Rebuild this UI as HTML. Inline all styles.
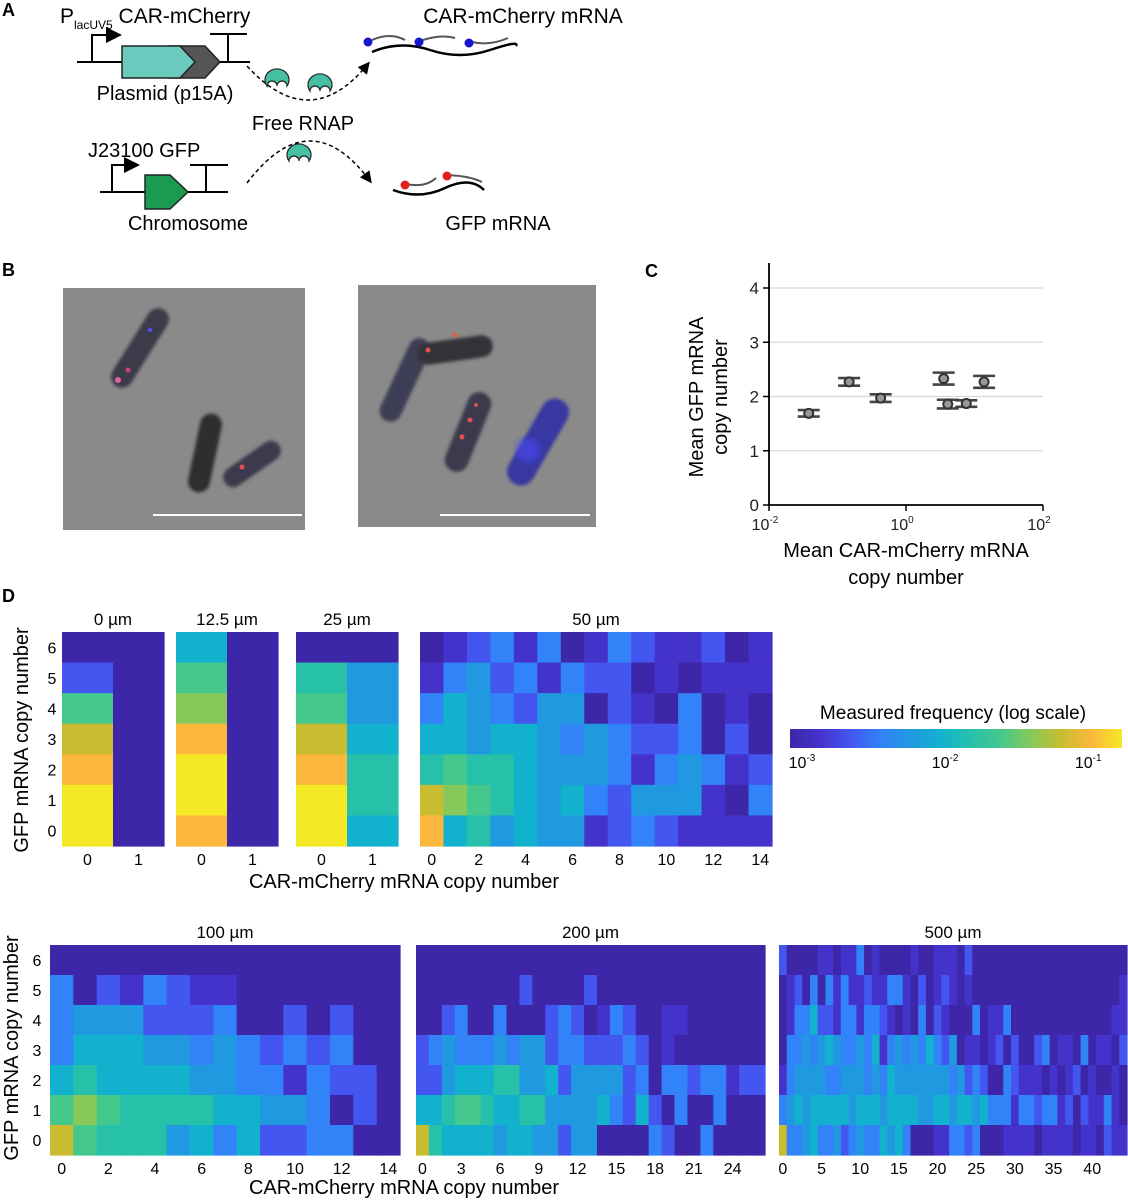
<!DOCTYPE html>
<html><head><meta charset="utf-8">
<style>
body{margin:0;background:#fff;}
svg{display:block;font-family:"Liberation Sans",Arial,sans-serif;}
</style></head>
<body>
<svg id="fig" width="1128" height="1200" viewBox="0 0 1128 1200" xmlns="http://www.w3.org/2000/svg">
<defs>
<marker id="ah" markerWidth="8" markerHeight="8" refX="6" refY="4" orient="auto"><path d="M0,0 L8,4 L0,8 z" fill="#000"/></marker>
<filter id="bl"><feGaussianBlur stdDeviation="4"/></filter>
<filter id="bl2"><feGaussianBlur stdDeviation="1.5"/></filter>
</defs>
<!-- Panel A -->
<g>
<text x="2" y="16" font-size="18" font-weight="bold">A</text>
<text x="60" y="23" font-size="21">P<tspan font-size="12" dy="6">lacUV5</tspan><tspan dy="-6"> CAR-mCherry</tspan></text>
<line x1="77" y1="62" x2="250" y2="62" stroke="#000" stroke-width="2"/>
<path d="M92,62 V35 H118" fill="none" stroke="#000" stroke-width="2" marker-end="url(#ah)"/>
<polygon points="170,46 205,46 220,62 205,78 170,78" fill="#555" stroke="#222" stroke-width="1.5"/>
<polygon points="122,46 180,46 195,62 180,78 122,78" fill="#6cc9bd" stroke="#222" stroke-width="1.5"/>
<path d="M228,62 V34 M210,34 H247" stroke="#000" stroke-width="2"/>
<text x="165" y="100" font-size="20" text-anchor="middle">Plasmid (p15A)</text>
<path d="M247,66 Q310,135 368,64" fill="none" stroke="#000" stroke-width="1.5" stroke-dasharray="4,3" marker-end="url(#ah)"/>
<text x="303" y="130" font-size="20" text-anchor="middle">Free RNAP</text>
<g fill="#47bfa3" stroke="#222" stroke-width="1.2">
<path d="M272,96 A12,11 0 1 1 292,96 A5,5 0 0 0 282,96 A5,5 0 0 0 272,96 Z" transform="translate(-5,-10)"/>
<path d="M272,96 A12,11 0 1 1 292,96 A5,5 0 0 0 282,96 A5,5 0 0 0 272,96 Z" transform="translate(38,-5)"/>
<path d="M272,96 A12,11 0 1 1 292,96 A5,5 0 0 0 282,96 A5,5 0 0 0 272,96 Z" transform="translate(17,65)"/>
</g>
<text x="88" y="157" font-size="20">J23100  GFP</text>
<line x1="100" y1="192" x2="228" y2="192" stroke="#000" stroke-width="2"/>
<path d="M112,192 V165 H136" fill="none" stroke="#000" stroke-width="2" marker-end="url(#ah)"/>
<polygon points="145,175 170,175 188,192 170,209 145,209" fill="#1a9b4f" stroke="#222" stroke-width="1.5"/>
<path d="M206,192 V165 M190,165 H228" stroke="#000" stroke-width="2"/>
<text x="188" y="230" font-size="20" text-anchor="middle">Chromosome</text>
<path d="M247,183 Q310,100 370,181" fill="none" stroke="#000" stroke-width="1.5" stroke-dasharray="4,3" marker-end="url(#ah)"/>
<text x="523" y="23" font-size="21" text-anchor="middle">CAR-mCherry mRNA</text>
<path d="M372,52 Q400,40 430,50 T490,50 T516,46" fill="none" stroke="#000" stroke-width="2.5"/>
<path d="M372,40 Q390,32 405,40 M420,41 Q440,34 455,38 M472,42 Q490,46 508,38" fill="none" stroke="#555" stroke-width="2"/>
<circle cx="368" cy="42" r="4.5" fill="#1515d0"/><circle cx="419" cy="42" r="4.5" fill="#1515d0"/><circle cx="469" cy="43" r="4.5" fill="#1515d0"/>
<path d="M393,190 Q420,200 445,188 T484,190" fill="none" stroke="#000" stroke-width="2.5"/>
<path d="M406,184 Q425,188 436,178 M447,175 Q470,176 482,182" fill="none" stroke="#555" stroke-width="2"/>
<circle cx="405" cy="185" r="4.5" fill="#e02020"/><circle cx="447" cy="176" r="4.5" fill="#e02020"/>
<text x="498" y="230" font-size="20" text-anchor="middle">GFP mRNA</text>
</g>
<!-- Panel B -->
<g>
<text x="2" y="276" font-size="18" font-weight="bold">B</text>
<rect x="63" y="288" width="242" height="242" fill="#8a8a8a"/>
<g filter="url(#bl2)">
<rect x="-45" y="-11" width="90" height="22" rx="11" fill="#3a3a48" transform="translate(140,348) rotate(-58)"/>
<rect x="-40" y="-11" width="80" height="22" rx="11" fill="#2e2e2e" transform="translate(205,453) rotate(-78)"/>
<rect x="-33" y="-10" width="66" height="20" rx="10" fill="#3a3a4e" transform="translate(252,464) rotate(-35)"/>
</g>
<circle cx="118" cy="380" r="3" fill="#e060a0"/><circle cx="128" cy="370" r="2.5" fill="#d04080"/><circle cx="242" cy="467" r="2.5" fill="#e05050"/><circle cx="150" cy="330" r="2" fill="#5050ff"/>
<line x1="153" y1="515" x2="302" y2="515" stroke="#fff" stroke-width="2"/>
<rect x="358" y="285" width="238" height="242" fill="#8a8a8a"/>
<g filter="url(#bl2)">
<rect x="-45" y="-11" width="90" height="22" rx="11" fill="#3c3c54" transform="translate(405,380) rotate(-65)"/>
<rect x="-38" y="-11" width="76" height="22" rx="11" fill="#333338" transform="translate(455,350) rotate(-8)"/>
<rect x="-42" y="-12" width="84" height="24" rx="12" fill="#3a3a4e" transform="translate(468,432) rotate(-68)"/>
<rect x="-48" y="-14" width="96" height="28" rx="14" fill="#3838a0" transform="translate(538,442) rotate(-60)"/>
</g>
<circle cx="528" cy="450" r="12" fill="#4a4aff" opacity="0.6" filter="url(#bl)"/>
<circle cx="428" cy="350" r="2.5" fill="#e05050"/><circle cx="455" cy="335" r="2.5" fill="#e06040"/><circle cx="470" cy="420" r="2.5" fill="#e05050"/><circle cx="462" cy="437" r="2.5" fill="#e05050"/><circle cx="476" cy="405" r="2" fill="#e05050"/>
<line x1="440" y1="515" x2="590" y2="515" stroke="#fff" stroke-width="2"/>
</g>
<!-- Panel C -->
<g id="panelC">
<text x="645" y="277" font-size="18" font-weight="bold">C</text>
</g>
<!-- Panel D -->
<g id="panelD">
<text x="2" y="602" font-size="18" font-weight="bold">D</text>
</g>
</svg>
<script>
// ---------- Panel C data ----------
const cLogX = [-1.42, -0.83, -0.37, 0.55, 0.61, 0.88, 1.14];
const cMeanY = [1.69, 2.27, 1.97, 2.33, 1.86, 1.87, 2.27];
const cErrY = [0.06, 0.07, 0.07, 0.11, 0.08, 0.06, 0.11];
const cYTicks = [0, 1, 2, 3, 4];
const cXTickExp = [-2, 0, 2];

// ---------- Panel D data (level codes: 0..b, log-frequency bins) ----------
const hm0 = ["00","20","70","90","a0","b0","b0"];
const hm12 = ["50","70","80","a0","b0","b0","a0"];
const hm25 = ["00","64","74","95","a6","b6","b5"];
const hm50 = [
"012313013211201","134231322010111","354324402103010",
"554554343223020","676654443134312","987654532444103","a56454412321111"];
const hm100 = [
"000000000000000","302132110000000","344422230020200",
"355544343232300","565555443313220","787666655443020","976664535223300"];
const hm200 = [
"000000000000000000000000000","000000002000020000000000000",
"002300300023201320011000000","234333434423322232010000000",
"224555664452444423033233122","556776556644445325203003000",
"965555455442440000320030000"];
const hm500 = [
"200001101130100001001110200000000000000000000",
"012030313112113310201210100000000000000000001",
"013352213313321010302100030113000000000000011",
"033434543343513434353240110120200230110301102",
"134444334443435444444434232003211101012010010",
"345455555455545555445545545333133233120211310",
"933453342343354530001133230001111011110110211"];
const gfpTicks = [0,1,2,3,4,5,6];
const cbTickExp = [-3, -2, -1];

const palette = ["#3e26a8","#4433cb","#4356ef","#3282f8","#2199e0","#12b2cf","#27c1aa","#45c88c","#86c95a","#c9bc31","#fbb83c","#f4e925"];
const NS = "http://www.w3.org/2000/svg";
function mk(parent, tag, attrs, text){
  const e = document.createElementNS(NS, tag);
  for (const k in attrs) e.setAttribute(k, attrs[k]);
  if (text !== undefined) e.textContent = text;
  parent.appendChild(e); return e;
}

// ---- Panel C render ----
(function(){
  const g = document.getElementById('panelC');
  const x0 = 769, x1 = 1043, y0 = 505, y1 = 288;
  const sx = v => x0 + (v + 2) / 4 * (x1 - x0);
  const sy = v => y0 - v / 4 * (y0 - y1);
  cYTicks.forEach(t => {
    if (t > 0) {
      const gl = mk(g,'line',{x1:x0,x2:x1,y1:sy(t),y2:sy(t),stroke:'#d8d8d8','stroke-width':1.2});
      
      
    }
    mk(g,'line',{x1:x0-6,x2:x0,y1:sy(t),y2:sy(t),stroke:'#000','stroke-width':1.5});
    const tl = mk(g,'text',{x:x0-10,y:sy(t)+6,'font-size':17,'text-anchor':'end',fill:'#222'}, String(t));
    
    
  });
  const ax = mk(g,'path',{d:`M${x0},263 V${y0} H${x1}`,fill:'none',stroke:'#000','stroke-width':1.8});
  
  
  cXTickExp.forEach(e => {
    mk(g,'line',{x1:sx(e),x2:sx(e),y1:y0,y2:y0+6,stroke:'#000','stroke-width':1.5});
    const t = mk(g,'text',{x:sx(e)-4,y:y0+25,'font-size':16,'text-anchor':'middle',fill:'#222'});
    
    
    mk(t,'tspan',{},'10');
    mk(t,'tspan',{dy:-7,'font-size':10}, String(e));
  });
  cLogX.forEach((lx,i) => {
    const cx = sx(lx), cy = sy(cMeanY[i]);
    const eb = mk(g,'path',{d:`M${cx-11},${sy(cMeanY[i]+cErrY[i])} H${cx+11} M${cx-11},${sy(cMeanY[i]-cErrY[i])} H${cx+11} M${cx},${sy(cMeanY[i]+cErrY[i])} V${sy(cMeanY[i]-cErrY[i])}`,stroke:'#444','stroke-width':2.6,fill:'none'});
    
    
    const p = mk(g,'circle',{cx:cx,cy:cy,r:4.5,fill:'#999',stroke:'#333','stroke-width':2});
    
    
  });
  const yl = mk(g,'text',{transform:'translate(703,397) rotate(-90)','font-size':20,'text-anchor':'middle'});
  
  
  mk(yl,'tspan',{x:0,y:0},'Mean GFP mRNA');
  mk(yl,'tspan',{x:0,y:24},'copy number');
  const xl = mk(g,'text',{x:906,y:557,'font-size':20,'text-anchor':'middle'});
  
  
  mk(xl,'tspan',{x:906,y:557},'Mean CAR-mCherry mRNA');
  mk(xl,'tspan',{x:906,y:584},'copy number');
})();

// ---- Panel D render ----
(function(){
  const g = document.getElementById('panelD');
  function heat(data, left, right, top, bottom, title, tickStep, tickMax, nameKey, showY, yTickX){
    const rows = data.length, cols = data[0].length;
    const cw = (right-left)/cols, rh = (bottom-top)/rows;
    const hg = mk(g,'g',{});
    
    
    data.forEach((row,r) => {
      for (let c=0;c<cols;c++){
        const lvl = parseInt(row[c],16) || 0;
        const cell = mk(hg,'rect',{x:left+c*cw,y:top+r*rh,width:cw+0.6,height:rh+0.6,fill:palette[Math.min(lvl,11)]});
        
        
      }
    });
    const tt = mk(g,'text',{x:(left+right)/2,y:top-7,'font-size':17,'text-anchor':'middle'}, title);
    
    
    for (let v=0; v<=tickMax; v+=tickStep){
      const tx = left + (v+0.5)*cw;
      const t = mk(g,'text',{x:tx,y:bottom+19,'font-size':16,'text-anchor':'middle'}, String(v));
      
      
    }
    if (showY){
      gfpTicks.forEach(v => {
        const ty = bottom - (v+0.5)*rh + 6;
        const t = mk(g,'text',{x:yTickX,y:ty,'font-size':16,'text-anchor':'middle'}, String(v));
        
        
      });
    }
  }
  heat(hm0, 62, 164, 632, 846, '0 µm', 1, 1, '0um', true, 52);
  heat(hm12, 176, 278, 632, 846, '12.5 µm', 1, 1, '12-5um', false);
  heat(hm25, 296, 398, 632, 846, '25 µm', 1, 1, '25um', false);
  heat(hm50, 420, 772, 632, 846, '50 µm', 2, 14, '50um', false);
  heat(hm100, 50, 400, 945, 1155, '100 µm', 2, 14, '100um', true, 37);
  heat(hm200, 416, 765, 945, 1155, '200 µm', 3, 24, '200um', false);
  heat(hm500, 779, 1127, 945, 1155, '500 µm', 5, 40, '500um', false);

  const l1 = mk(g,'text',{transform:'translate(28,740) rotate(-90)','font-size':20,'text-anchor':'middle'},'GFP mRNA copy number');
  
  
  const l2 = mk(g,'text',{x:404,y:888,'font-size':20,'text-anchor':'middle'},'CAR-mCherry mRNA copy number');
  
  
  const l3 = mk(g,'text',{transform:'translate(18,1048) rotate(-90)','font-size':20,'text-anchor':'middle'},'GFP mRNA copy number');
  
  
  const l4 = mk(g,'text',{x:404,y:1194,'font-size':20,'text-anchor':'middle'},'CAR-mCherry mRNA copy number');
  
  

  // colorbar
  const cb = mk(g,'g',{});
  
  
  const cbL = 790, cbR = 1122, cbT = 729, cbB = 748;
  const grad = mk(document.querySelector('defs'),'linearGradient',{id:'parula',x1:0,x2:1,y1:0,y2:0});
  palette.forEach((col,i) => mk(grad,'stop',{offset:(i/(palette.length-1)),'stop-color':col}));
  mk(cb,'rect',{x:cbL,y:cbT,width:cbR-cbL,height:cbB-cbT,fill:'url(#parula)'});
  const ct = mk(g,'text',{x:953,y:719,'font-size':19,'text-anchor':'middle'},'Measured frequency (log scale)');
  
  
  const cbx = e => cbL + (e + 3) / 2.32 * (cbR - cbL);
  cbTickExp.forEach(e => {
    const t = mk(g,'text',{x:cbx(e)+12,y:768,'font-size':16,'text-anchor':'middle'});
    
    
    mk(t,'tspan',{},'10');
    mk(t,'tspan',{dy:-7,'font-size':10}, String(e));
  });
})();
</script>
</body></html>
